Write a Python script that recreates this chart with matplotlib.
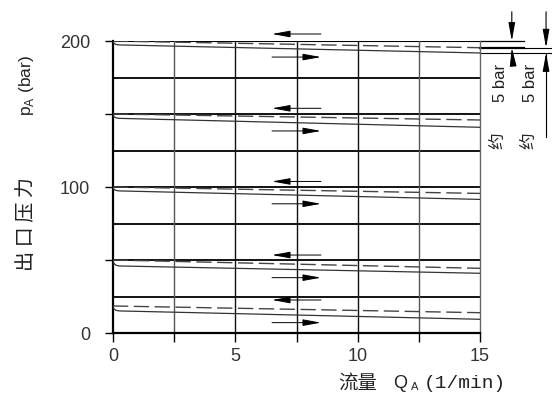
import matplotlib
matplotlib.use("Agg")
import matplotlib.pyplot as plt
from matplotlib.path import Path
from matplotlib.patches import PathPatch, FancyArrowPatch

# ---------------- data ----------------
flow_ticks = [0, 2.5, 5, 7.5, 10, 12.5, 15]
flow_tick_labels = ["0", "", "5", "", "10", "", "15"]
pressure_ticks = [0, 50, 100, 150, 200]
pressure_tick_labels = ["0", "", "100", "", "200"]
grid_pressures = [25, 50, 75, 100, 125, 150, 175, 200]

flow_start = 0.0
flow_knee = 0.3
flow_end = 15.0
dashed_start = [200, 150, 100, 50, 18.5]
dashed_end = [195.4, 145.9, 95.6, 44.3, 13.9]
solid_start = [197.3, 147.0, 97.3, 45.9, 15.1]
solid_end = [191.8, 140.9, 91.5, 40.9, 9.4]

arrow_flow_a = 6.5
arrow_flow_b = 8.5
arrow_left_level = [204.8, 153.9, 103.8, 53.4, 22.6]
arrow_right_level = [189.0, 138.4, 88.5, 37.9, 7.1]

# ---------------- figure ----------------
W, H = 552, 394
fig = plt.figure(figsize=(W / 100, H / 100), dpi=100)
ax = fig.add_axes([113 / W, 1 - 333 / H, (480 - 113) / W, (333 - 41) / H])
ax.set_xlim(0, 15)
ax.set_ylim(0, 200)

# grid
for p in grid_pressures:
    lw = 0.8 if p == 200 else 1.3
    ax.axhline(p, color="black", lw=lw, zorder=1)
for f in flow_ticks[1:-1]:
    c = "#555555" if f in (2.5, 12.5) else "#111111"
    ax.axvline(f, color=c, lw=1.0, zorder=1)

# spines
ax.spines["top"].set_visible(False)
ax.spines["right"].set_color("#666666")
ax.spines["right"].set_linewidth(1.0)
ax.spines["left"].set_linewidth(1.6)
ax.spines["bottom"].set_linewidth(1.6)

ax.set_xticks(flow_ticks)
ax.set_xticklabels(flow_tick_labels)
ax.set_yticks(pressure_ticks)
ax.set_yticklabels(pressure_tick_labels)
ax.tick_params(axis="x", direction="out", length=6.5, width=1.0, pad=4,
               labelsize=13, labelcolor="#333333")
ax.tick_params(axis="y", direction="out", length=5.5, width=1.0, pad=11,
               labelsize=13, labelcolor="#333333")
for lab in ax.get_xticklabels() + ax.get_yticklabels():
    lab.set_family("Liberation Sans")

# curves
for ds, de, ss, se in zip(dashed_start, dashed_end, solid_start, solid_end):
    ax.plot([flow_start, flow_end], [ds, de], color="#444444", lw=1.0,
            dashes=(11, 4), zorder=3)
    path = Path([(flow_start, ds), (flow_start, ss), (flow_knee, ss), (flow_end, se)],
                [Path.MOVETO, Path.CURVE3, Path.CURVE3, Path.LINETO])
    ax.add_patch(PathPatch(path, fill=False, edgecolor="#333333", lw=0.9, zorder=3))

# direction arrows
for yl, yr in zip(arrow_left_level, arrow_right_level):
    for (x0, x1, y) in [(arrow_flow_b, arrow_flow_a, yl), (arrow_flow_a, arrow_flow_b, yr)]:
        ar = FancyArrowPatch((x0, y), (x1, y),
                             arrowstyle="-|>,head_length=1.1,head_width=0.2",
                             mutation_scale=10, color="black", lw=0.7,
                             clip_on=False, zorder=4, shrinkA=0, shrinkB=0)
        ax.add_patch(ar)

# right-hand dimension marks (top curve)
x_dim1, x_dim2, x_ext1, x_ext2 = 16.3, 17.7, 16.8, 17.94
ax.plot([flow_end, x_ext1], [dashed_start[0], dashed_start[0]], color="black", lw=0.9, clip_on=False)
ax.plot([flow_end, x_ext1], [dashed_end[0], dashed_end[0]], color="black", lw=1.6, clip_on=False)
ax.plot([x_ext1, x_ext2], [dashed_end[0], dashed_end[0]], color="black", lw=0.8, clip_on=False)
ax.plot([flow_end, x_ext2], [solid_end[0], solid_end[0]], color="black", lw=0.8, clip_on=False)
dim_arrows = [
    ((x_dim1, 220), (x_dim1, dashed_start[0])),
    ((x_dim1 + 0.05, 184), (x_dim1, dashed_end[0])),
    ((x_dim2, 220), (x_dim2, dashed_end[0])),
    ((x_dim2, 184), (x_dim2, solid_end[0])),
]
for a, b in dim_arrows:
    ax.add_patch(FancyArrowPatch(a, b, arrowstyle="-|>,head_length=1.1,head_width=0.2",
                                 mutation_scale=10, color="black", lw=0.8,
                                 clip_on=False, shrinkA=0, shrinkB=0))
ax.plot([x_dim2, x_dim2], [solid_end[0], 134], color="black", lw=0.8, clip_on=False)

for xt in (15.82, 17.08):
    ax.text(xt, 171.6, "5 bar", rotation=90, ha="center", va="center",
            fontsize=12, family="Liberation Sans", color="#222222", clip_on=False)
    ax.text(xt - 0.1, 131.5, "约", rotation=90, ha="center", va="center",
            fontsize=12, family="Noto Sans CJK SC", color="#222222", clip_on=False)

# axis labels as figure texts (pixel positions)
def ftext(x, y, s, **kw):
    fig.text(x / W, 1 - y / H, s, **kw)

ftext(27, 224, "出 口 压 力", rotation=90, ha="center", va="center",
      fontsize=14.5, family="Noto Sans CJK SC", color="#222222")
ftext(27, 86, "p$_\\mathregular{A}$ (bar)", rotation=90, ha="center", va="center",
      fontsize=12.5, family="Liberation Sans", color="#222222")
ftext(358, 383, "流量", ha="center", va="center", fontsize=14,
      family="Noto Sans CJK SC", color="#222222")
ftext(400, 383, "Q", ha="center", va="center", fontsize=13,
      family="Liberation Sans", color="#222222")
ftext(415, 387, "A", ha="center", va="center", fontsize=8,
      family="Liberation Sans", color="#222222")
ftext(465, 383, "(1/min)", ha="center", va="center", fontsize=14,
      family="Liberation Mono", color="#222222")

fig.savefig("out.png", dpi=100)
